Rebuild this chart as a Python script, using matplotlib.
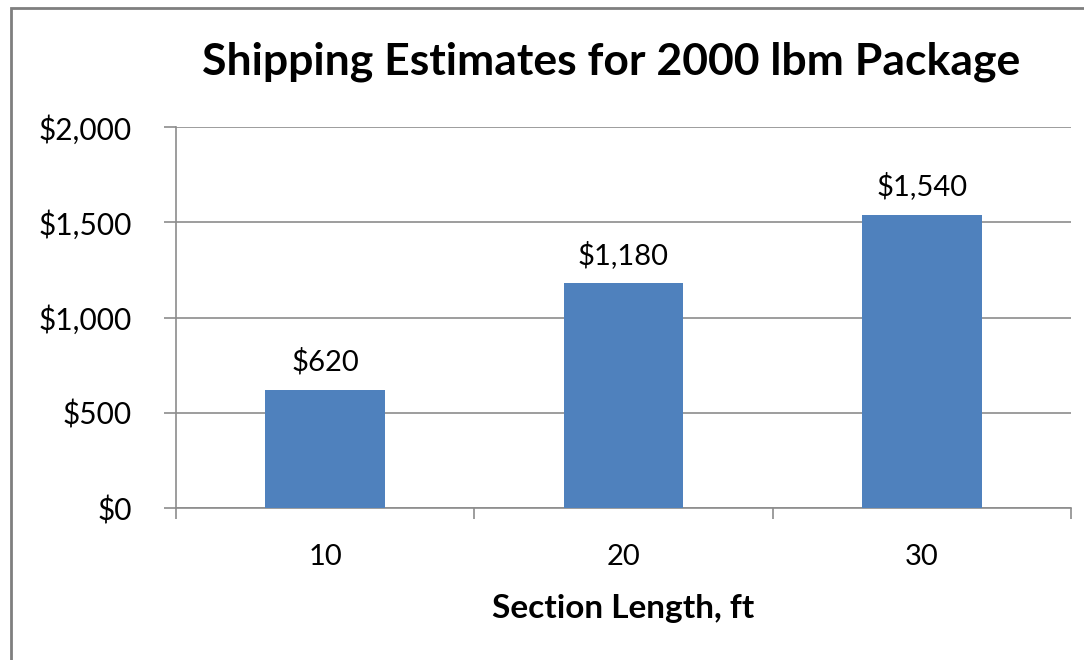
import matplotlib.pyplot as plt
from matplotlib.patches import Rectangle
from matplotlib.ticker import FuncFormatter

plt.rcParams['font.family'] = ['Lato', 'DejaVu Sans']

lengths = ['10', '20', '30']
costs = [620, 1180, 1540]
yticks = [0, 500, 1000, 1500, 2000]

bar_color = '#4F81BD'
grid_color = '#8C8C8C'

fig = plt.figure(figsize=(10.84, 6.6), dpi=100)
ax = fig.add_axes([176/1084, 1 - 508/660, (1071 - 176)/1084, (508 - 127)/660])

x = range(len(lengths))
bars = ax.bar(x, costs, width=0.4, color=bar_color, zorder=3)
for b, v in zip(bars, costs):
    ax.text(b.get_x() + b.get_width()/2, v + 75, '${:,}'.format(v),
            ha='center', va='bottom', fontsize=21)

ax.set_xlim(-0.5, len(lengths) - 0.5)
ax.set_ylim(0, 2000)
ax.set_yticks(yticks)
ax.yaxis.set_major_formatter(FuncFormatter(lambda v, p: '${:,.0f}'.format(v)))
ax.set_xticks(x)
ax.set_xticklabels(lengths)
ax.set_xticks([-0.5, 0.5, 1.5, 2.5], minor=True)
ax.tick_params(axis='x', which='major', length=0, labelsize=21, pad=26)
ax.tick_params(axis='x', which='minor', length=8, color=grid_color, width=1.2)
ax.tick_params(axis='y', length=8.6, color=grid_color, width=1.2, labelsize=21.5, pad=23)

ax.grid(axis='y', color=grid_color, linewidth=1.2, zorder=0)
for s in ['top', 'right']:
    ax.spines[s].set_visible(False)
for s in ['left', 'bottom']:
    ax.spines[s].set_color(grid_color)
    ax.spines[s].set_linewidth(1.2)

ax.set_xlabel('Section Length, ft', fontsize=24, fontweight='bold', labelpad=17)
fig.text(611/1084, 1 - 62/660, 'Shipping Estimates for 2000 lbm Package',
         ha='center', va='center', fontsize=32, fontweight='bold')

# chart frame (cropped at right and bottom)
fig.patches.append(Rectangle((11/1084, -0.1), 1.2, 1 - 8/660 + 0.1,
                             transform=fig.transFigure, fill=False,
                             edgecolor='#7F7F7F', linewidth=2))

fig.savefig('out.png', dpi=100)
